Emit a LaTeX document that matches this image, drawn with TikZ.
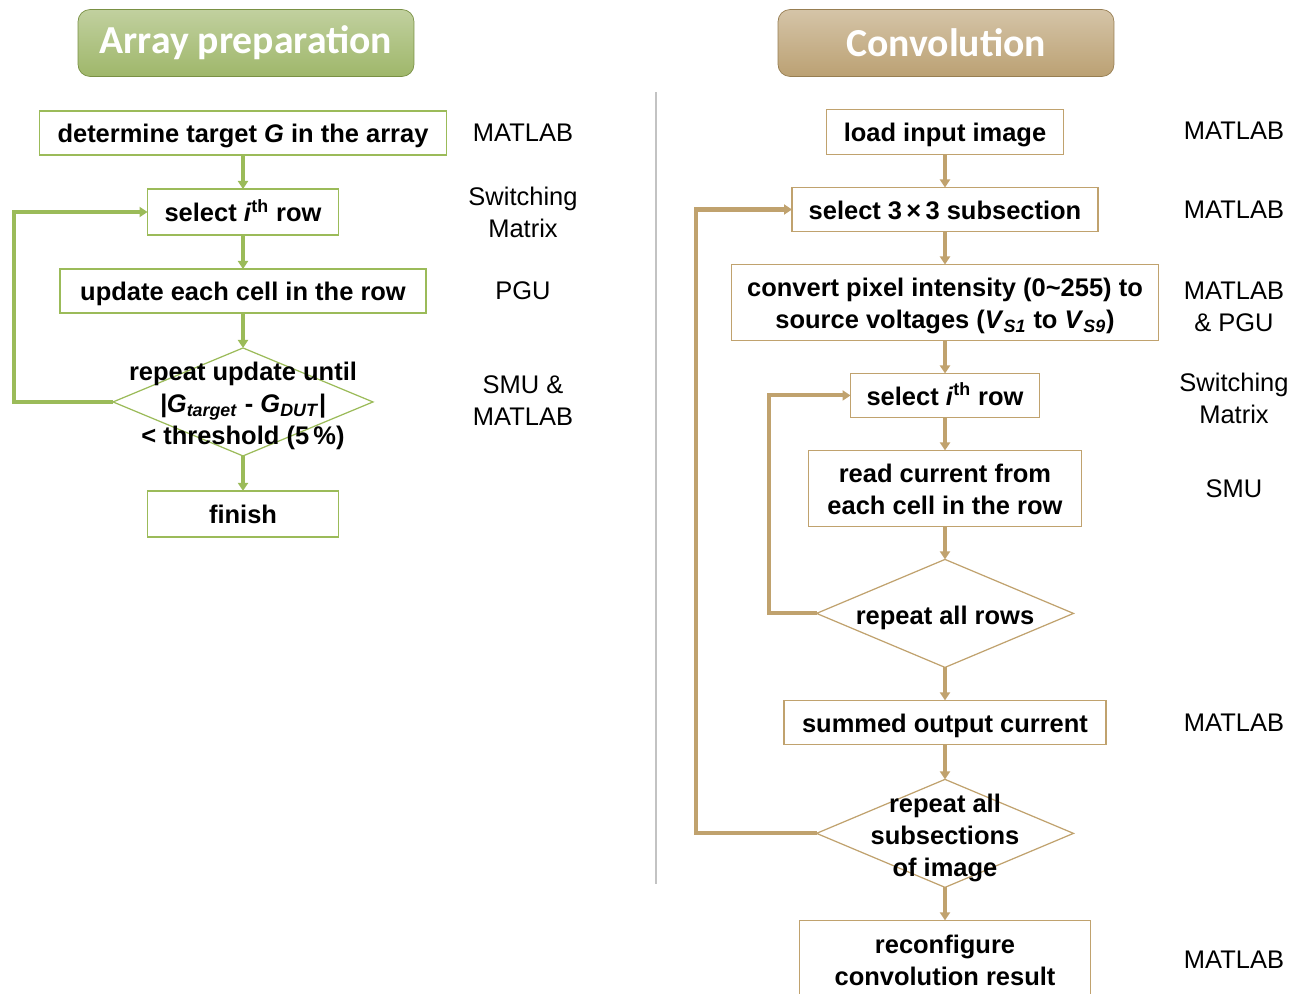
\documentclass[tikz,border=0pt]{standalone}
\usepackage{fontspec}
\setmainfont{Liberation Sans}
\newfontfamily\titleFont{Carlito}
\usetikzlibrary{positioning,shapes.geometric,arrows.meta}

\definecolor{oliveLine}{RGB}{155,187,89}
\definecolor{oliveButton}{RGB}{142,170,80}
\definecolor{goldLine}{RGB}{192,162,110}
\definecolor{goldButton}{RGB}{178,148,96}
\definecolor{sepGray}{RGB}{195,195,195}

\newcommand{\diamondText}[1]{\makebox[0pt]{\smash{\raisebox{-0.42em}{\begin{tabular}{@{}c@{}}#1\end{tabular}}}}}

\begin{document}
\begin{tikzpicture}[x=0.02cm, y=-0.02cm, node distance=0.68cm, >={Triangle[length=0.16cm,width=0.2cm]}]
        % Styles
        \tikzstyle{button} = [rounded corners=0.24cm, minimum width=6.72cm, minimum height=1.34cm, text=white, font=\titleFont\bfseries\fontsize{22.6}{26}\selectfont]
        \tikzstyle{stepBox} = [draw, rectangle, line width=0.9pt, inner sep=0pt, outer sep=0pt, align=center, font=\bfseries\fontsize{14.5}{18.2}\selectfont]
        \tikzstyle{oneLine} = [text height=12pt, text depth=1pt]
        \tikzstyle{twoLines} = [text height=30.5pt, text depth=1pt]
        \tikzstyle{decision} = [draw, diamond, line width=0.7pt, inner sep=0pt, outer sep=0pt, minimum width=5.2cm, minimum height=2.16cm, font=\bfseries\fontsize{14.5}{18.2}\selectfont]
        \tikzstyle{tool} = [align=center, font=\fontsize{14.5}{18.2}\selectfont]
        \tikzstyle{flowGreen} = [->, oliveLine, line width=1.8pt]
        \tikzstyle{loopGreen} = [->, oliveLine, line width=2.3pt]
        \tikzstyle{flowGold} = [->, goldLine, line width=1.8pt]
        \tikzstyle{loopGold} = [->, goldLine, line width=2.3pt]

        \useasboundingbox (0,0) rectangle (1299,994);

        % Titles
        \node[button, draw=oliveButton!85!black, top color=oliveButton!55!white, middle color=oliveButton, bottom color=oliveButton!85!white] (titleArray) at (246,43) {Array preparation};
        \node[button, draw=goldButton!85!black, top color=goldButton!55!white, middle color=goldButton, bottom color=goldButton!88!white] (titleConv) at (946,43) {Convolution};

        % Separator
        \draw[sepGray, line width=0.8pt] (656,92) -- (656,884);

        % Array preparation
        \node[stepBox, oneLine, draw=oliveLine, minimum width=8.14cm, minimum height=0.88cm] (boxTarget) at (243,133) {determine target \textit{G} in the array};
        \node[stepBox, oneLine, draw=oliveLine, minimum width=3.82cm, minimum height=0.92cm, below=of boxTarget] (boxRowL) {select \textit{i}\textsuperscript{th} row};
        \node[stepBox, oneLine, draw=oliveLine, minimum width=7.32cm, minimum height=0.88cm, below=of boxRowL] (boxUpdate) {update each cell in the row};
        \node[decision, draw=oliveLine, below=0.7cm of boxUpdate] (decUpdate) {\diamondText{repeat update until\\ \textit{|G}\textsubscript{\textit{target}} - \textit{G}\textsubscript{\textit{DUT}}|\\ < threshold (5\,\%)}};
        \node[stepBox, oneLine, draw=oliveLine, minimum width=3.82cm, minimum height=0.92cm, below=0.7cm of decUpdate] (boxFinish) {finish};

        \draw[flowGreen] (boxTarget) -- (boxRowL);
        \draw[flowGreen] (boxRowL) -- (boxUpdate);
        \draw[flowGreen] (boxUpdate) -- (decUpdate);
        \draw[flowGreen] (decUpdate) -- (boxFinish);
        \draw[loopGreen] (decUpdate.west) -- ++(-1.98cm,0) |- (boxRowL.west);

        \node[tool] (toolTarget) at (523,133) {MATLAB};
        \node[tool] (toolRowL) at (523,212) {Switching\\Matrix};
        \node[tool] (toolUpdate) at (523,291) {PGU};
        \node[tool] (toolDecUpdate) at (523,401) {SMU \&\\MATLAB};

        % Convolution
        \node[stepBox, oneLine, draw=goldLine, minimum width=4.74cm, minimum height=0.9cm] (boxLoad) at (945,132) {load input image};
        \node[stepBox, oneLine, draw=goldLine, minimum width=6.12cm, minimum height=0.88cm, below=0.66cm of boxLoad] (boxSubsec) {select 3\,×\,3 subsection};
        \node[stepBox, twoLines, draw=goldLine, minimum width=8.54cm, minimum height=1.52cm, below=0.66cm of boxSubsec] (boxConvert) {convert pixel intensity (0\textasciitilde255) to\\ source voltages (\textit{V}\textsubscript{\textit{S1}} to \textit{V}\textsubscript{\textit{S9}})};
        \node[stepBox, oneLine, draw=goldLine, minimum width=3.78cm, minimum height=0.88cm, below=0.66cm of boxConvert] (boxRowR) {select \textit{i}\textsuperscript{th} row};
        \node[stepBox, twoLines, draw=goldLine, minimum width=5.46cm, minimum height=1.52cm, below=0.66cm of boxRowR] (boxRead) {read current from\\ each cell in the row};
        \node[decision, draw=goldLine, minimum width=5.14cm, below=0.66cm of boxRead] (decRows) {\diamondText{repeat all rows}};
        \node[stepBox, oneLine, draw=goldLine, minimum width=6.44cm, minimum height=0.88cm, below=0.66cm of decRows] (boxSummed) {summed output current};
        \node[decision, draw=goldLine, minimum width=5.14cm, below=0.7cm of boxSummed] (decSubsec) {\diamondText{repeat all\\ subsections\\ of image}};
        \node[stepBox, twoLines, draw=goldLine, minimum width=5.82cm, minimum height=1.56cm, below=0.66cm of decSubsec] (boxReconf) {reconfigure\\ convolution result};

        \draw[flowGold] (boxLoad) -- (boxSubsec);
        \draw[flowGold] (boxSubsec) -- (boxConvert);
        \draw[flowGold] (boxConvert) -- (boxRowR);
        \draw[flowGold] (boxRowR) -- (boxRead);
        \draw[flowGold] (boxRead) -- (decRows);
        \draw[flowGold] (decRows) -- (boxSummed);
        \draw[flowGold] (boxSummed) -- (decSubsec);
        \draw[flowGold] (decSubsec) -- (boxReconf);
        \draw[loopGold] (decRows.west) -- ++(-0.96cm,0) |- (boxRowR.west);
        \draw[loopGold] (decSubsec.west) -- ++(-2.42cm,0) |- (boxSubsec.west);

        \node[tool] (toolLoad) at (1234,131) {MATLAB};
        \node[tool] (toolSubsec) at (1234,210) {MATLAB};
        \node[tool] (toolConvert) at (1234,307) {MATLAB\\\& PGU};
        \node[tool] (toolRowR) at (1234,398) {Switching\\Matrix};
        \node[tool] (toolRead) at (1234,489) {SMU};
        \node[tool] (toolSummed) at (1234,723) {MATLAB};
        \node[tool] (toolReconf) at (1234,960) {MATLAB};
\end{tikzpicture}
\end{document}
